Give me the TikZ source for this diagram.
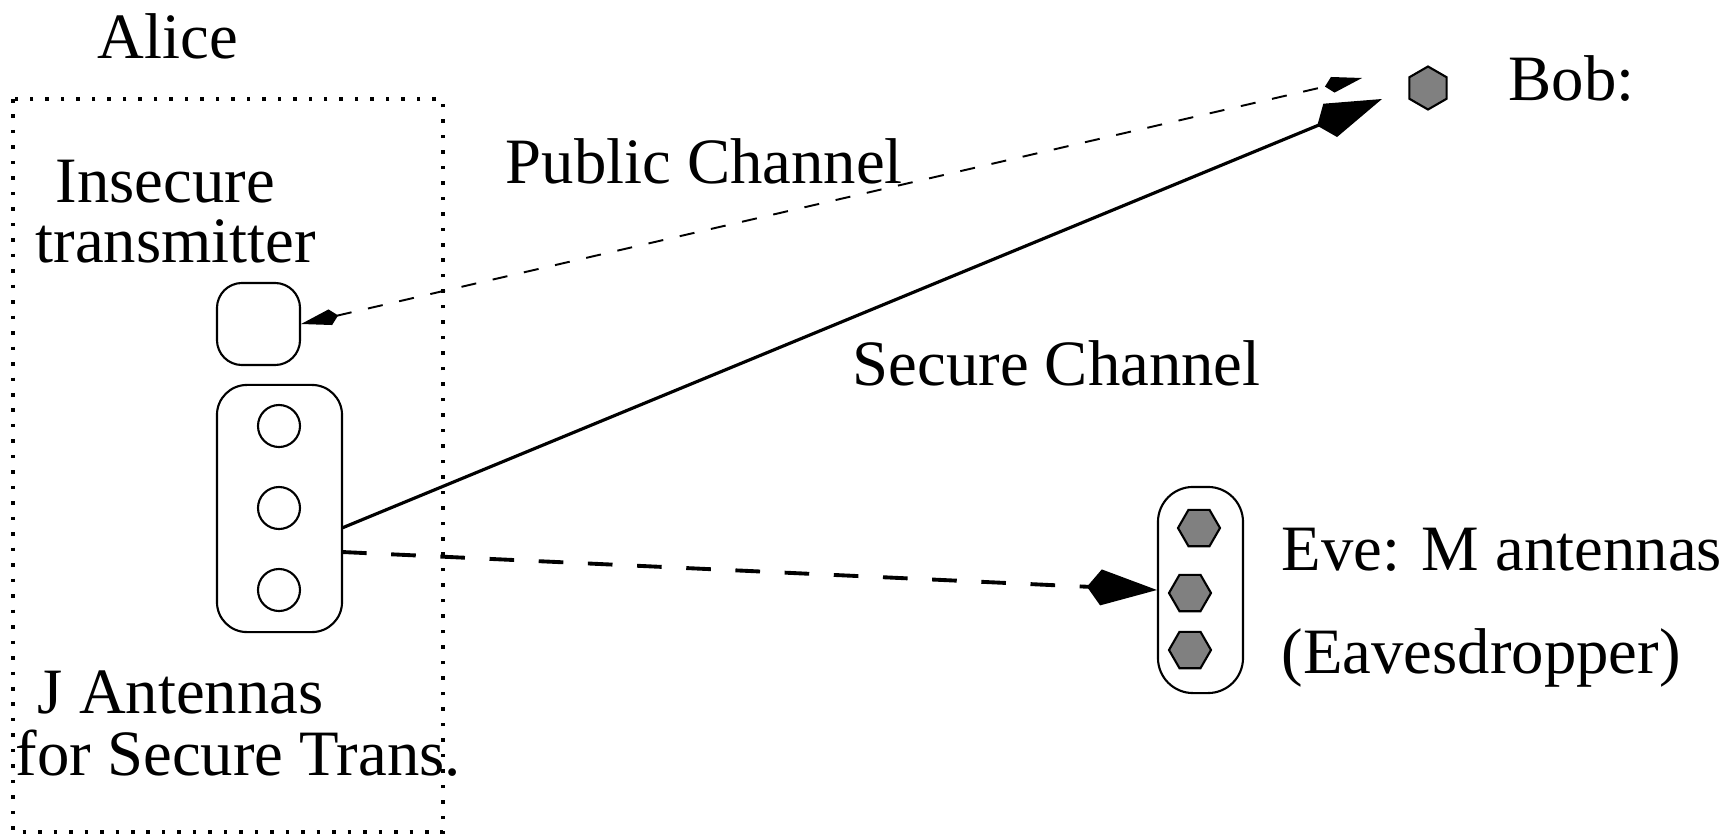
\documentclass[tikz,border=0pt]{standalone}
\usepackage{fontspec}
\setmainfont{Liberation Serif}
\usetikzlibrary{arrows.meta,shapes.geometric}

\begin{document}
\begin{tikzpicture}[x=0.01cm,y=-0.01cm,
            every node/.style={font=\fontsize{18.4}{22}\selectfont},
            lbl/.style={inner sep=0pt,anchor=base west},
            rbox/.style={draw,line width=0.6pt,inner sep=0pt},
            ant/.style={draw,circle,line width=0.6pt,minimum size=0.42cm,inner sep=0pt},
            hexa/.style={draw,regular polygon,regular polygon sides=6,fill=black!50,
                line width=0.6pt,minimum size=0.42cm,inner sep=0pt},
            bigtip/.style={-{Kite[length=0.7cm,width=0.36cm,inset=0.14cm]}},
            smalltip/.style={{Kite[length=0.38cm,width=0.16cm,inset=0.08cm]}-{Kite[length=0.38cm,width=0.16cm,inset=0.08cm]}}]
                \useasboundingbox (0,0) rectangle (1735,836);
                % Alice side
                \draw[dash pattern=on 1pt off 3.4pt,line width=0.9pt] (13,99) rectangle (443,832);
                \node[lbl](alice) at (97,58) {Alice};
                \node[lbl](insec) at (55,202) {Insecure};
                \node[lbl](trans) at (35,262) {transmitter};
                \node[rbox,rounded corners=0.25cm,minimum width=0.83cm,minimum height=0.82cm](tbox) at (258.5,324) {};
                \node[rbox,rounded corners=0.3cm,minimum width=1.25cm,minimum height=2.47cm](jbox) at (279.5,508.5) {};
                \node[ant](a1) at (279,426) {};
                \node[ant](a2) at (279,508) {};
                \node[ant](a3) at (279,590) {};
                \node[lbl](jant) at (37,713) {J Antennas};
                \node[lbl](forsec) at (15,775) {for Secure Trans.};
                % Bob
                \node[hexa,shape border rotate=90,minimum size=0.43cm](bob) at (1428,88) {};
                \node[lbl](boblbl) at (1508,100) {Bob:};
                % Eve
                \node[rbox,rounded corners=0.35cm,minimum width=0.85cm,minimum height=2.06cm](evebox) at (1200.5,590) {};
                \node[hexa](e1) at (1199,528) {};
                \node[hexa](e2) at (1190,593) {};
                \node[hexa](e3) at (1190,650) {};
                \node[lbl](evelbl) at (1281,570) {Eve: M antennas};
                \node[lbl](eavlbl) at (1281,673) {(Eavesdropper)};
                % channels
                \node[lbl](publbl) at (505,183) {Public Channel};
                \node[lbl](seclbl) at (852,385) {Secure Channel};
                \coordinate (bobpub) at (1362,78);
                \coordinate (bobin) at (1382,99);
                \coordinate (secout) at (342,528);
                \coordinate (eveout) at (342,552);
                \draw[smalltip,line width=0.55pt,dash pattern=on 4.3pt off 4.8pt] (tbox.east) -- (bobpub);
                \draw[bigtip,line width=0.9pt] (secout) -- (bobin);
                \draw[bigtip,line width=1.1pt,dash pattern=on 7pt off 7pt] (eveout) -- (evebox.west);
        \end{tikzpicture}
\end{document}
